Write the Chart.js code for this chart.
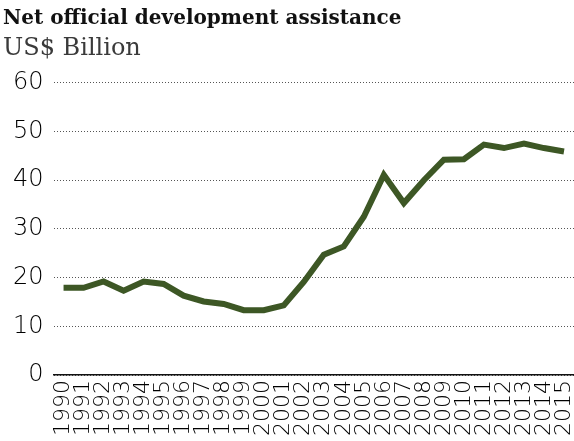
<!DOCTYPE html>
<html>
<head>
<meta charset="utf-8">
<script src="https://cdn.jsdelivr.net/npm/chart.js@4"></script>
<style>
  html, body { margin: 0; padding: 0; background: #fff; overflow: hidden; }
  #wrap { width: 574px; height: 441px; }
</style>
</head>
<body>
<div id="wrap"><canvas id="chart"></canvas></div>
<script>
// Years on the x axis
const years = ['1990', '1991', '1992', '1993', '1994', '1995', '1996', '1997', '1998', '1999',
  '2000', '2001', '2002', '2003', '2004', '2005', '2006', '2007', '2008', '2009',
  '2010', '2011', '2012', '2013', '2014', '2015'];

// Net ODA, US$ billion
const netOda = [17.9, 17.9, 19.2, 17.3, 19.2, 18.7, 16.3, 15.1, 14.6, 13.3,
  13.3, 14.3, 19.1, 24.7, 26.4, 32.5, 41.1, 35.3, 40.0, 44.2,
  44.3, 47.3, 46.6, 47.5, 46.6, 45.9];

const yTicks = [0, 10, 20, 30, 40, 50, 60];

const titleText = 'Net official development assistance';
const subtitleText = 'US$ Billion';

const ctx = document.getElementById('chart').getContext('2d');
new Chart(ctx, {
  type: 'line',
  data: {
    labels: years,
    datasets: [{
      label: 'Net ODA',
      data: netOda,
      borderColor: '#3d5725',
      borderWidth: 6,
      pointRadius: 0,
      tension: 0,
      fill: false,
      borderJoinStyle: 'miter',
      borderCapStyle: 'butt'
    }]
  },
  options: {
    responsive: true,
    maintainAspectRatio: false,
    animation: false,
    layout: { padding: { left: 3, right: 0, top: 0, bottom: 0 } },
    plugins: {
      legend: { display: false },
      tooltip: { enabled: false },
      title: {
        display: true,
        text: titleText,
        align: 'start',
        color: '#111',
        font: { family: 'DejaVu Serif', size: 20, weight: 'bold' },
        padding: { top: 7, bottom: 3 }
      },
      subtitle: {
        display: true,
        text: subtitleText,
        align: 'start',
        color: '#3a3a3a',
        font: { family: 'DejaVu Serif', size: 24, weight: 'normal' },
        padding: { top: 0, bottom: 20 }
      }
    },
    scales: {
      x: {
        offset: true,
        grid: { display: false, drawTicks: false },
        border: { display: true, color: '#111', width: 1.5 },
        ticks: {
          autoSkip: false,
          maxRotation: 90,
          minRotation: 90,
          padding: 5,
          color: '#000',
          font: { family: 'DejaVu Sans', size: 22, weight: 200 }
        },
        // labels run off the bottom edge like in the original
        afterFit: axis => {
          axis.height = 66;
          axis.paddingLeft = 0;
          axis.paddingRight = 0;
        }
      },
      y: {
        min: 0,
        max: 60,
        afterBuildTicks: axis => { axis.ticks = yTicks.map(v => ({ value: v })); },
        grid: { color: '#555', lineWidth: 1, drawTicks: false },
        border: { display: false, dash: [1, 2] },
        ticks: {
          padding: 10,
          color: '#000',
          font: { family: 'DejaVu Sans', size: 24, weight: 200 }
        }
      }
    }
  }
});
</script>
</body>
</html>
